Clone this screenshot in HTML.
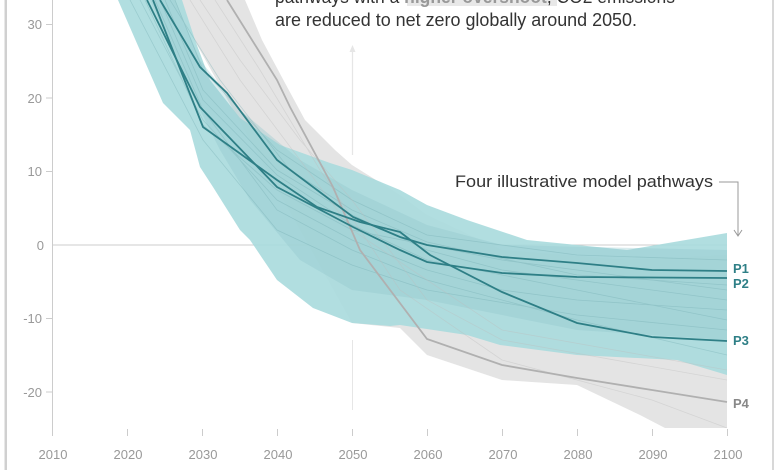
<!DOCTYPE html>
<html><head><meta charset="utf-8"><style>
html,body{margin:0;padding:0;background:#fff;}
svg{display:block;}
text{font-family:"Liberation Sans",sans-serif;}
</style></head><body>
<svg width="780" height="470" viewBox="0 0 780 470" xmlns="http://www.w3.org/2000/svg">
<rect x="0" y="0" width="780" height="470" fill="#fff"/>
<rect x="4.5" y="0" width="2.5" height="470" fill="#d0d0d0"/>
<rect x="772" y="0" width="2" height="470" fill="#d8d8d8"/>
<defs><clipPath id="c"><rect x="53" y="0" width="675" height="428"/></clipPath></defs>
<line x1="52.5" y1="0" x2="52.5" y2="432" stroke="#ccc" stroke-width="1"/>
<line x1="52.5" y1="245" x2="727" y2="245" stroke="#ccc" stroke-width="1"/>
<g stroke="#ccc" stroke-width="1">
<line x1="46" y1="24.5" x2="52" y2="24.5"/><line x1="46" y1="98" x2="52" y2="98"/>
<line x1="46" y1="171.5" x2="52" y2="171.5"/><line x1="46" y1="318.5" x2="52" y2="318.5"/>
<line x1="46" y1="392" x2="52" y2="392"/>
<line x1="52.5" y1="429" x2="52.5" y2="436"/><line x1="127.5" y1="429" x2="127.5" y2="436"/>
<line x1="202.5" y1="429" x2="202.5" y2="436"/><line x1="277.5" y1="429" x2="277.5" y2="436"/>
<line x1="352.5" y1="429" x2="352.5" y2="436"/><line x1="427.5" y1="429" x2="427.5" y2="436"/>
<line x1="502.5" y1="429" x2="502.5" y2="436"/><line x1="577.5" y1="429" x2="577.5" y2="436"/>
<line x1="652.5" y1="429" x2="652.5" y2="436"/><line x1="727.5" y1="429" x2="727.5" y2="436"/>
</g>
<g fill="#999" font-size="13" text-anchor="end">
<text x="42" y="29">30</text><text x="42" y="103">20</text><text x="42" y="176">10</text>
<text x="44" y="250">0</text><text x="42" y="323">-10</text><text x="42" y="397">-20</text>
</g>
<g fill="#999" font-size="13" text-anchor="middle">
<text x="53" y="459">2010</text><text x="128" y="459">2020</text><text x="203" y="459">2030</text>
<text x="278" y="459">2040</text><text x="353" y="459">2050</text><text x="428" y="459">2060</text>
<text x="503" y="459">2070</text><text x="578" y="459">2080</text><text x="653" y="459">2090</text>
<text x="728" y="459">2100</text>
</g>
<line x1="352.5" y1="340" x2="352.5" y2="410" stroke="#e6e6e6" stroke-width="1"/>
<line x1="352.5" y1="50" x2="352.5" y2="155" stroke="#e6e6e6" stroke-width="1.2"/>
<path d="M349.5 52 L352.5 45 L355.5 52 Z" fill="#e6e6e6"/>
<g clip-path="url(#c)">
<path d="M172 0 L245 0 L262 40 L285 83 L305 120 L335 150 L352 165 L400 195 L427 215 L502 250 L627 260 L727 255 L727 428 L665 428 L640 415 L577 385 L502 380 L427 355 L400 328 L352 323 Z" fill="#e4e4e4"/>
<path d="M118 0 L182 0 L195 40 L210 80 L240 118 L280 145 L330 163 L352 170 L400 190 L427 205 L467 220 L527 240 L627 250 L727 233 L727 375 L677 360 L577 355 L500 345 L467 335 L400 325 L390 326 L352 323 L313 308 L277 280 L250 240 L240 230 L213 187 L200 167 L190 130 L163 103 Z" fill="#a9dadd" opacity="0.9"/>
<path d="M150 0 L175 0 L200 60 L240 110 L300 160 L352 190 L427 225 L502 245 L727 250 L727 340 L577 330 L427 300 L352 290 L300 260 L250 200 L220 150 L190 90 Z" fill="#8fc7cc" opacity="0.35"/>
<g fill="none" stroke="#6fa9ae" stroke-width="0.8" opacity="0.35">
<path d="M140 0 L203 120 L277 200 L352 240 L427 270 L502 290 L577 300 L727 310"/>
<path d="M165 0 L203 90 L277 170 L352 215 L427 250 L502 270 L727 300"/>
<path d="M130 0 L203 140 L277 230 L352 265 L427 290 L577 315 L727 330"/>
<path d="M175 0 L203 70 L277 150 L352 200 L427 235 L577 255 L727 260"/>
<path d="M155 0 L203 110 L277 210 L352 250 L427 280 L577 320 L727 355"/>
<path d="M145 0 L203 125 L277 190 L352 230 L502 260 L727 290"/>
<path d="M160 0 L203 100 L277 175 L352 225 L427 260 L577 290 L727 320"/>
<path d="M170 0 L220 80 L290 170 L352 210 L427 242 L577 275 L727 285"/>
</g>
<g fill="none" stroke="#bdbdbd" stroke-width="0.8" opacity="0.4">
<path d="M200 0 L240 60 L300 140 L352 200 L427 300 L502 340 L727 380"/>
<path d="M215 0 L260 70 L320 170 L400 290 L502 360 L652 400 L727 428"/>
<path d="M190 0 L240 80 L300 160 L352 230 L502 330 L727 370"/>
</g>
<path d="M227 0 L277 80 L290 107 L333 187 L360 250 L427 339 L502 365 L577 378 L652 390 L727 402" fill="none" stroke="#b0b0b0" stroke-width="1.8"/>
<g fill="none" stroke="#2e7f86" stroke-width="1.8">
<path d="M160 0 L200 67 L227 93 L277 160 L353 217 L400 237 L427 245 L502 257 L577 263 L652 270 L727 271"/>
<path d="M147 0 L200 107 L277 187 L353 227 L400 250 L427 262 L502 273 L577 277 L727 278"/>
<path d="M153 0 L203 127 L277 180 L317 207 L360 222 L400 232 L430 255 L502 292 L577 323 L652 337 L727 341"/>
</g>
</g>
<g font-size="13" font-weight="bold">
<text x="733" y="273" fill="#2e7f86">P1</text>
<text x="733" y="288" fill="#2e7f86">P2</text>
<text x="733" y="345" fill="#2e7f86">P3</text>
<text x="733" y="408" fill="#888">P4</text>
</g>
<text x="713" y="187" font-size="17" fill="#333" text-anchor="end" textLength="258" lengthAdjust="spacingAndGlyphs">Four illustrative model pathways</text>
<path d="M719 182 L738 182 L738 235" fill="none" stroke="#999" stroke-width="1"/>
<path d="M734 230 L738 236 L742 230" fill="none" stroke="#999" stroke-width="1"/>
<rect x="407" y="-12" width="150" height="18" fill="#e8e8e8"/>
<text x="275" y="3" font-size="18" fill="#333" textLength="400" lengthAdjust="spacingAndGlyphs">pathways with a <tspan font-weight="bold" fill="#999">higher overshoot</tspan>, CO2 emissions</text>
<text x="275" y="26" font-size="18" fill="#333" textLength="362" lengthAdjust="spacingAndGlyphs">are reduced to net zero globally around 2050.</text>
</svg>
</body></html>
